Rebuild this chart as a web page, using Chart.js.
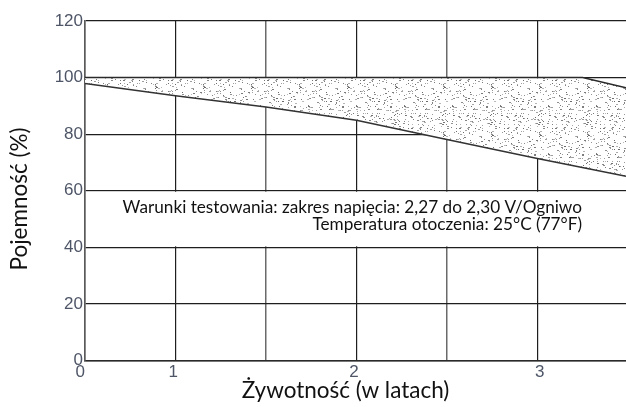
<!DOCTYPE html>
<html>
<head>
<meta charset="utf-8">
<script src="https://cdn.jsdelivr.net/npm/chart.js@4.4.1/dist/chart.umd.min.js"></script>
<style>
html,body{margin:0;padding:0;background:#fff;}
#wrap{width:626px;height:407px;position:relative;}
</style>
</head>
<body>
<div id="wrap"><canvas id="c"></canvas></div>
<script>
// ---- data ----
const xGridPositions = [0, 1, 2, 3, 4, 5];
const xTickLabels = ['0  ', '1 ', '', '2 ', '', ' 3'];
const yTickValues = [0, 20, 40, 60, 80, 100, 120];

const upperX = [0, 1, 2, 3, 4, 5, 5.5, 5.98];
const upperY = [100, 100, 100, 100, 100, 100, 100, 96.4];

const lowerX = [0, 1, 2, 3, 4, 5, 5.98];
const lowerY = [97.9, 93.6, 89.6, 84.9, 78.1, 71.4, 65.1];

const xTitle = 'Żywotność (w latach)';
const yTitle = 'Pojemność (%)';
const noteLines = [
  'Warunki testowania: zakres napięcia: 2,27 do 2,30 V/Ogniwo',
  'Temperatura otoczenia: 25°C (77°F)'
];

// ---- stipple texture (style only) ----
function makeStipple() {
  const size = 48;
  const c = document.createElement('canvas');
  c.width = size; c.height = size;
  const g = c.getContext('2d');
  g.fillStyle = '#ffffff';
  g.fillRect(0, 0, size, size);
  let s = 987654;
  const nx = () => { s = (s * 1103515245 + 12345) % 2147483648; return s / 2147483648; };
  for (let i = 0; i < 210; i++) {
    const px = Math.floor(nx() * size);
    const py = Math.floor(nx() * size);
    const shade = 105 + Math.floor(nx() * 85);
    g.fillStyle = 'rgb(' + shade + ',' + shade + ',' + shade + ')';
    const w = nx() < 0.3 ? 2 : 1;
    g.fillRect(px, py, w, 1);
  }
  return g.createPattern(c, 'repeat');
}

const toPts = (xs, ys) => xs.map((x, i) => ({ x: x, y: ys[i] }));

const textPlugin = {
  id: 'texts',
  beforeDatasetsDraw(chart) {
    const ctx = chart.ctx;
    const ys = chart.scales.y;
    const area = chart.chartArea;
    const top = ys.getPixelForValue(60) + 1;
    const bot = ys.getPixelForValue(40) - 1;
    ctx.save();
    ctx.fillStyle = '#ffffff';
    ctx.fillRect(area.left + 1, top, area.right - area.left - 1, bot - top);
    let fs = 16;
    ctx.font = fs + 'px Lato';
    const w = ctx.measureText(noteLines[0]).width;
    fs = fs * 460 / w;
    ctx.font = fs.toFixed(2) + 'px Lato';
    ctx.fillStyle = '#111111';
    ctx.textAlign = 'right';
    ctx.textBaseline = 'alphabetic';
    const rx = area.left + 497;
    ctx.fillText(noteLines[0], rx, top + 21);
    ctx.fillText(noteLines[1], rx, top + 38);
    ctx.restore();
  },
  afterDraw(chart) {
    const ctx = chart.ctx;
    ctx.save();
    ctx.fillStyle = '#111111';
    ctx.font = '22.5px Lato';
    ctx.textAlign = 'center';
    ctx.textBaseline = 'alphabetic';
    ctx.fillText(xTitle, 345.5, 398);
    ctx.translate(27, 199);
    ctx.rotate(-Math.PI / 2);
    ctx.fillText(yTitle, 0, 0);
    ctx.restore();
  }
};

const tickColor = '#4d5566';

new Chart(document.getElementById('c'), {
  type: 'line',
  data: {
    datasets: [
      {
        data: toPts(upperX, upperY),
        borderColor: '#2a2a2a',
        borderWidth: 1.5,
        pointRadius: 0,
        tension: 0,
        fill: false
      },
      {
        data: toPts(lowerX, lowerY),
        borderColor: '#333333',
        borderWidth: 1.6,
        pointRadius: 0,
        tension: 0,
        fill: { target: '-1' },
        backgroundColor: makeStipple()
      }
    ]
  },
  options: {
    responsive: true,
    maintainAspectRatio: false,
    animation: false,
    events: [],
    layout: { padding: { top: 21, left: 0, right: 0, bottom: 0 } },
    plugins: {
      legend: { display: false },
      tooltip: { enabled: false }
    },
    scales: {
      x: {
        type: 'linear',
        min: 0,
        max: 5.98,
        afterBuildTicks: (s) => { s.ticks = xGridPositions.map(v => ({ value: v })); },
        afterFit: (s) => { s.height = 46.5; },
        grid: {
          drawTicks: false,
          color: (c) => (c.tick && (c.tick.value === 2 || c.tick.value === 4)) ? '#6a6a6a' : '#1e1e1e',
          lineWidth: (c) => (c.tick && (c.tick.value === 2 || c.tick.value === 4)) ? 1.5 : 1.2
        },
        border: { color: '#2a2a2a', width: 1.5 },
        ticks: {
          autoSkip: false,
          maxRotation: 0,
          padding: 2,
          color: tickColor,
          font: { family: 'Liberation Sans', size: 17 },
          callback: (v, i) => xTickLabels[i]
        }
      },
      y: {
        type: 'linear',
        min: 0,
        max: 120,
        afterBuildTicks: (s) => { s.ticks = yTickValues.map(v => ({ value: v })); },
        afterFit: (s) => { s.width = 85; },
        grid: {
          drawTicks: false,
          color: '#1e1e1e',
          lineWidth: 1.2
        },
        border: { color: '#5a5a5a', width: 1.6 },
        ticks: {
          padding: 2,
          color: tickColor,
          font: { family: 'Liberation Sans', size: 17 }
        }
      }
    }
  },
  plugins: [textPlugin]
});
</script>
</body>
</html>
